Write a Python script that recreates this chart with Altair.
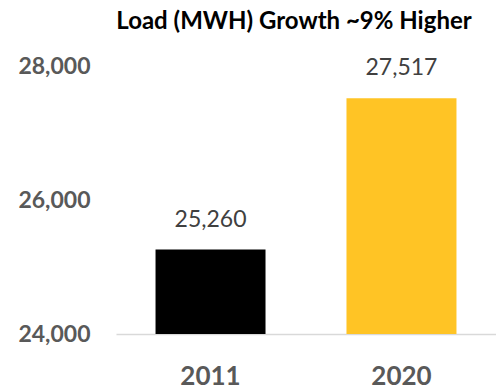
import altair as alt
import pandas as pd

years = ["2011", "2020"]
loads = [25260, 27517]
colors = ["#000000", "#FFC425"]

df = pd.DataFrame({"year": years, "load": loads, "color": colors})

base = alt.Chart(df).encode(
    x=alt.X("year:N", sort=years,
            scale=alt.Scale(paddingInner=0.424, paddingOuter=0.207),
            axis=alt.Axis(title=None, labelAngle=0, labelFont="Lato", labelFontSize=26,
                          labelFontWeight="bold", labelColor="#595959", labelPadding=29,
                          ticks=False, domainColor="#D9D9D9", domainWidth=1.5)),
    y=alt.Y("load:Q",
            scale=alt.Scale(domain=[24000, 28000], zero=False, nice=False),
            axis=alt.Axis(title=None, values=[24000, 26000, 28000], format=",.0f",
                          labelFont="Lato", labelFontSize=23, labelFontWeight="bold",
                          labelColor="#595959", labelPadding=26, ticks=False,
                          domain=False, grid=False)),
)

bars = base.mark_bar(clip=True).encode(
    color=alt.Color("color:N", scale=None),
)

labels = base.mark_text(font="Lato", fontSize=23, color="#404040", baseline="bottom", dy=-18).encode(
    text=alt.Text("load:Q", format=",.0f"),
)

chart = (bars + labels).properties(
    width=380,
    height=268,
    autosize=alt.AutoSizeParams(type="none"),
    padding={"left": 116, "top": 66, "right": 0, "bottom": 57},
    title=alt.Title("Load (MWH) Growth ~9% Higher", font="Lato", fontSize=24,
                    fontWeight="bold", color="#000000", anchor="middle", offset=21, dx=-12),
).configure_view(stroke=None)

chart.save("out.html", embed_options={"renderer": "svg", "actions": False})
